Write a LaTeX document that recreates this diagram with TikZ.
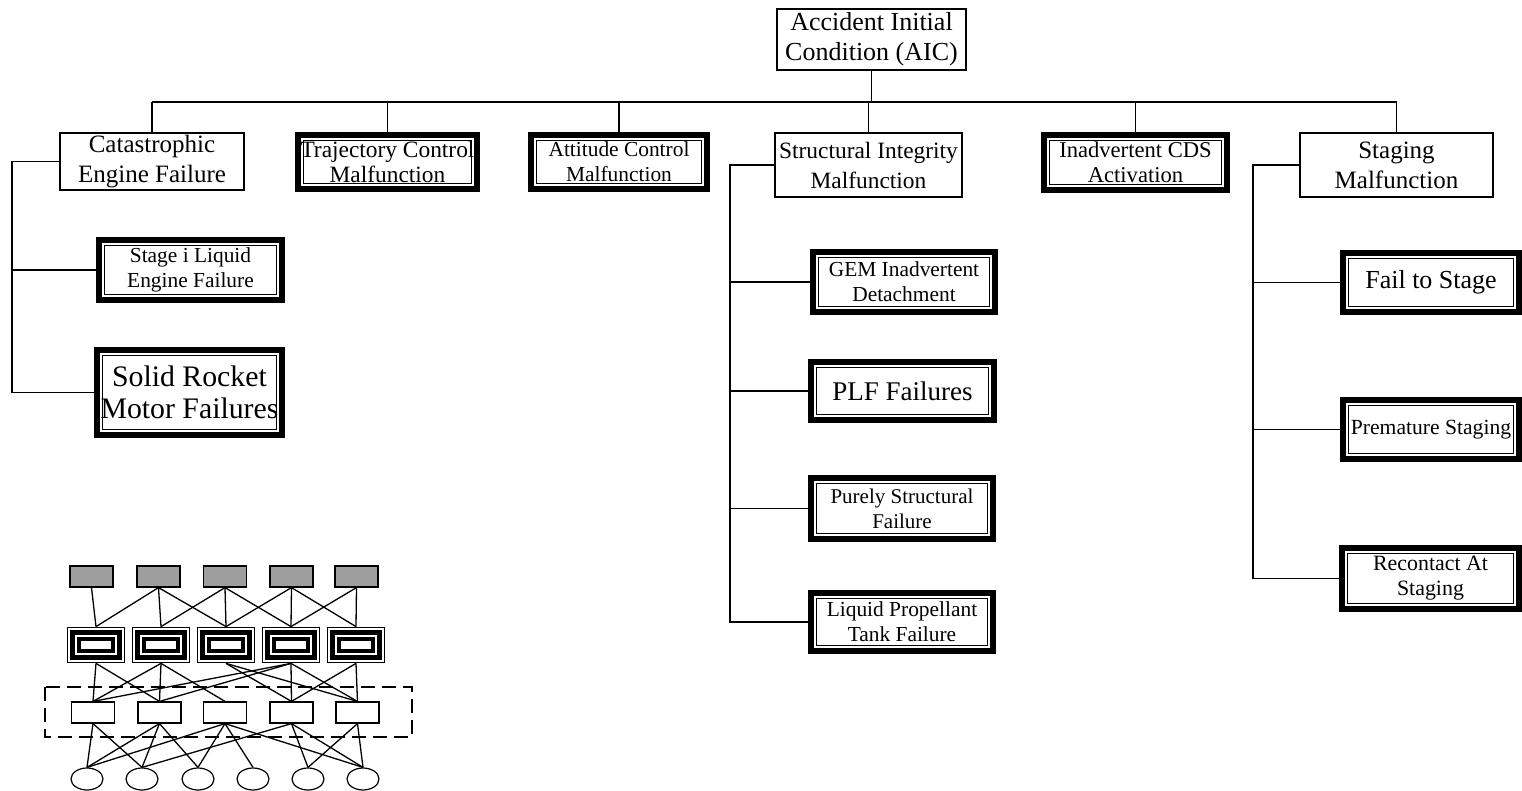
\documentclass[tikz,border=0pt]{standalone}
\usepackage{fontspec}
\setmainfont{Liberation Serif}
\usetikzlibrary{shapes.geometric}
\newcommand{\fsz}[2]{\fontsize{#1}{#2}\selectfont}
% \boxat{style}{name}{x1}{y1}{x2}{y2}{font}{text}
\newcommand{\boxat}[8]{\node[#1, font=#7, minimum width={(#5-#3)*0.5pt}, minimum height={(#6-#4)*0.5pt}] (#2) at ({(#3+#5)/2},{(#4+#6)/2}) {#8};}
\begin{document}
\begin{tikzpicture}[x=0.5pt,y=-0.5pt,
  sbox/.style={rectangle, draw=black, line width=1pt, fill=white, inner sep=0pt, align=center},
  dbox/.style={rectangle, fill=black, inner sep=0pt, align=center,
    path picture={
      \fill[white] ([shift={(2.9pt,2.9pt)}]path picture bounding box.south west) rectangle ([shift={(-2.9pt,-2.9pt)}]path picture bounding box.north east);
      \draw[line width=0.75pt] ([shift={(4.2pt,4.2pt)}]path picture bounding box.south west) rectangle ([shift={(-4.2pt,-4.2pt)}]path picture bounding box.north east);
    }},
  conn/.style={line width=0.95pt},
  busline/.style={line width=1.25pt},
  toprect/.style={rectangle, draw=black, line width=0.6pt, fill=black!38, minimum width=21.5pt, minimum height=10.5pt, inner sep=0pt},
  midrect/.style={rectangle, fill=black, minimum width=29pt, minimum height=18pt, inner sep=0pt,
    path picture={
      \fill[white] ([shift={(0.6pt,0.6pt)}]path picture bounding box.south west) rectangle ([shift={(-0.6pt,-0.6pt)}]path picture bounding box.north east);
      \fill[black] ([shift={(1.3pt,1.3pt)}]path picture bounding box.south west) rectangle ([shift={(-1.3pt,-1.3pt)}]path picture bounding box.north east);
      \fill[white] ([shift={(4.2pt,4.2pt)}]path picture bounding box.south west) rectangle ([shift={(-4.2pt,-4.2pt)}]path picture bounding box.north east);
      \fill[black] ([shift={(5.2pt,5.2pt)}]path picture bounding box.south west) rectangle ([shift={(-5.2pt,-5.2pt)}]path picture bounding box.north east);
      \fill[white] ([shift={(6.8pt,6.8pt)}]path picture bounding box.south west) rectangle ([shift={(-6.8pt,-6.8pt)}]path picture bounding box.north east);
    }},
  botrect/.style={rectangle, draw=black, line width=0.6pt, fill=white, minimum width=21.5pt, minimum height=10.5pt, inner sep=0pt},
  ell/.style={ellipse, draw=black, line width=0.6pt, fill=white, minimum width=16pt, minimum height=11pt, inner sep=0pt},
  net/.style={line width=0.65pt},
  dashbox/.style={draw=black, line width=0.7pt, dash pattern=on 7pt off 3.5pt}
]
\useasboundingbox (0,0) rectangle (1522,791);

% ---- main tree ----
\boxat{sbox}{aic}{777}{9}{966}{70}{\fsz{13}{15}}{Accident Initial\\Condition (AIC)}

\boxat{sbox}{cat}{60}{133}{244}{190}{\fsz{12.5}{15}}{Catastrophic\\Engine Failure}
\boxat{dbox}{traj}{295}{132}{480}{192}{\fsz{11.7}{12.5}}{Trajectory Control\\Malfunction}
\boxat{dbox}{att}{528}{132}{710}{192}{\fsz{10.7}{12.5}}{Attitude Control\\Malfunction}
\boxat{sbox}{struct}{775}{133}{962}{197}{\fsz{11.7}{15}}{Structural Integrity\\Malfunction}
\boxat{dbox}{cds}{1041}{132}{1230}{193}{\fsz{11.3}{12.5}}{Inadvertent CDS\\Activation}
\boxat{sbox}{stag}{1300}{133}{1493}{197}{\fsz{12.5}{15}}{Staging\\Malfunction}

\boxat{dbox}{stagei}{96}{237}{285}{303}{\fsz{10.7}{12.5}}{Stage i Liquid\\Engine Failure}
\boxat{dbox}{solid}{94}{347}{285}{438}{\fsz{14.9}{16}}{Solid Rocket\\Motor Failures}

\boxat{dbox}{gem}{810}{249}{998}{315}{\fsz{10.7}{12.5}}{GEM Inadvertent\\Detachment}
\boxat{dbox}{plf}{808}{359}{997}{423}{\fsz{13.5}{15}}{PLF Failures}
\boxat{dbox}{pure}{808}{475}{996}{542}{\fsz{10.5}{12.5}}{Purely Structural\\Failure}
\boxat{dbox}{liq}{808}{590}{996}{654}{\fsz{10.7}{12.5}}{Liquid Propellant\\Tank Failure}

\boxat{dbox}{fail}{1340}{250}{1522}{315}{\fsz{13}{15}}{Fail to Stage}
\boxat{dbox}{prem}{1340}{397}{1522}{462}{\fsz{10.8}{12.5}}{Premature Staging}
\boxat{dbox}{recon}{1339}{545}{1522}{612}{\fsz{10.95}{12.5}}{Recontact At\\Staging}

\coordinate (bus) at (0,102);
\draw[busline] (cat.north |- bus) -- (stag.north |- bus);
\draw[conn] (aic.south) -- (aic.south |- bus);
\foreach \n in {cat,traj,att,struct,cds,stag} \draw[conn] (\n.north |- bus) -- (\n.north);

\coordinate (spA) at (12,0);
\coordinate (spB) at (730,0);
\coordinate (spC) at (1253,0);
\draw[conn] (cat.west) -- (cat.west -| spA) |- (solid.west);
\draw[conn] (stagei.west -| spA) -- (stagei.west);
\draw[conn] (struct.west) -- (struct.west -| spB) |- (liq.west);
\foreach \n in {gem,plf,pure} \draw[conn] (\n.west -| spB) -- (\n.west);
\draw[conn] (stag.west) -- (stag.west -| spC) |- (recon.west);
\foreach \n in {fail,prem} \draw[conn] (\n.west -| spC) -- (\n.west);

% ---- small network ----
\draw[dashbox] (45,687) rectangle (412,737);
\foreach \i/\x in {1/91.5,2/158.5,3/225,4/291.5,5/356.5} \node[toprect] (t\i) at (\x,576.5) {};
\foreach \i/\x in {1/96,2/161,3/226,4/291,5/356} \node[midrect] (m\i) at (\x,645) {};
\foreach \i/\x in {1/93,2/159.5,3/225,4/291.5,5/357.5} \node[botrect] (b\i) at (\x,712.5) {};
\foreach \i/\x in {1/87,2/142,3/198,4/253,5/308,6/363} \node[ell] (e\i) at (\x,779) {};

\foreach \a/\b in {1/1,2/1,2/2,2/3,3/2,3/3,3/4,4/3,4/4,4/5,5/4,5/5}
  \draw[net] (t\a.south) -- (m\b.north);
\foreach \a/\b in {1/1,1/2,2/1,2/2,2/3,3/4,3/5,4/1,4/2,4/4,4/5,5/4,5/5}
  \draw[net] (m\a.south) -- (b\b.north);
\foreach \a/\b in {1/1,1/2,2/1,2/2,2/3,3/1,3/3,3/4,3/6,4/2,4/5,4/6,5/5,5/6}
  \draw[net] (b\a.south) -- (e\b.north);
\end{tikzpicture}
\end{document}
